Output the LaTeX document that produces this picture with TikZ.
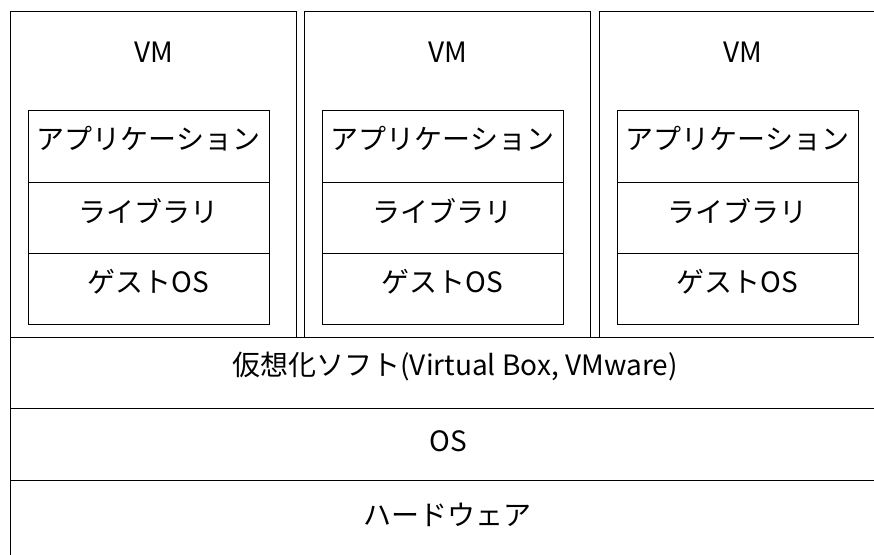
\documentclass[tikz,border=0pt]{standalone}
\usepackage{fontspec}
\setmainfont{Noto Sans CJK JP}
\begin{document}
\begin{tikzpicture}[x=1pt,y=-1pt,
  box/.style={draw=black,line width=1pt,inner sep=0pt,anchor=north west},
  lbl/.style={font=\fontsize{28}{32}\selectfont,inner sep=0pt}]
\useasboundingbox (0,0) rectangle (874,554);
\fill[white] (0,0) rectangle (874,554);
% VMs
\foreach \i/\x in {1/10,2/304,3/599}{
  \node[box,minimum width=286pt,minimum height=326pt] (vm\i) at (\x,11) {};
  \node[lbl] (vmt\i) at (\x+144,52) {VM};
  \node[box,minimum width=241pt,minimum height=72pt] (app\i) at (\x+18,110) {};
  \node[lbl] (appt\i) at (\x+138.5,139) {アプリケーション};
  \node[box,minimum width=241pt,minimum height=71pt] (lib\i) at (\x+18,182) {};
  \node[lbl] (libt\i) at (\x+138.5,211) {ライブラリ};
  \node[box,minimum width=241pt,minimum height=71pt] (os\i) at (\x+18,253) {};
  \node[lbl] (ost\i) at (\x+138.5,282) {ゲストOS};
}
% layers
\node[box,minimum width=900pt,minimum height=71pt] (soft) at (10,337) {};
\node[lbl] (softt) at (455,367) {仮想化ソフト(Virtual Box, VMware)};
\node[box,minimum width=900pt,minimum height=72pt] (hos) at (10,408) {};
\node[lbl] (host) at (448,441) {OS};
\node[box,minimum width=900pt,minimum height=90pt] (hw) at (10,480) {};
\node[lbl] (hwt) at (447,515) {ハードウェア};
\end{tikzpicture}
\end{document}
